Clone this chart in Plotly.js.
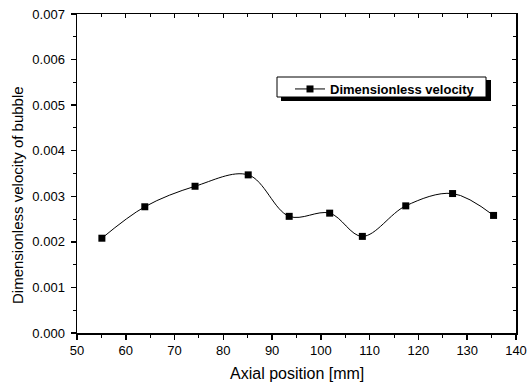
<!DOCTYPE html>
<html>
<head>
<meta charset="utf-8">
<script src="https://cdn.plot.ly/plotly-3.0.1.min.js"></script>
<style>html,body{margin:0;padding:0;background:#fff;}#chart{width:530px;height:390px;}</style>
</head>
<body>
<div id="chart"></div>
<script>
const axialPosition = [55.1, 63.9, 74.2, 85.1, 93.5, 101.8, 108.5, 117.4, 127.0, 135.4];
const dimensionlessVelocity = [0.00208, 0.00277, 0.00322, 0.00347, 0.00256, 0.00263, 0.00212, 0.00279, 0.00306, 0.00258];
const seriesName = 'Dimensionless velocity';
const xTitle = 'Axial position [mm]';
const yTitle = 'Dimensionless velocity of bubble';

const font = 'Liberation Sans, Arial, sans-serif';
const W = 530, H = 390, L = 77, R = 14, T = 14, B = 57;
const pw = W - L - R, ph = H - T - B;
const px = v => (v - L) / pw;          // pixel -> paper x
const py = v => (H - B - v) / ph;      // pixel -> paper y

const main = {
  x: axialPosition, y: dimensionlessVelocity, name: seriesName,
  type: 'scatter', mode: 'lines+markers',
  line: {shape: 'spline', smoothing: 1, color: '#000', width: 1},
  marker: {symbol: 'square', size: 7, color: '#000'},
  hoverinfo: 'skip'
};
const ghost = {
  x: axialPosition, y: dimensionlessVelocity, xaxis: 'x2', yaxis: 'y2',
  type: 'scatter', mode: 'markers', opacity: 0, showlegend: false, hoverinfo: 'skip'
};

const layout = {
  width: W, height: H,
  margin: {l: L, r: R, t: T, b: B},
  paper_bgcolor: '#fff', plot_bgcolor: '#fff',
  font: {family: font, color: '#000', size: 13},
  showlegend: true,
  legend: {x: px(290), y: py(74), xanchor: 'left', yanchor: 'top',
    bgcolor: 'rgba(0,0,0,0)', borderwidth: 0,
    font: {family: font, size: 13, color: '#000', weight: 'bold'}},
  xaxis: {range: [50, 140], dtick: 10, tick0: 50, showgrid: false, zeroline: false,
    showline: true, linecolor: '#000', linewidth: 1.5,
    ticks: 'outside', ticklen: 5, tickwidth: 1.5, tickcolor: '#000',
    minor: {dtick: 5, ticks: 'outside', ticklen: 3, tickwidth: 1, tickcolor: '#000'},
    tickfont: {size: 13, family: font}},
  yaxis: {range: [0, 0.007], dtick: 0.001, tickformat: '.3f', showgrid: false, zeroline: false,
    showline: true, linecolor: '#000', linewidth: 1.5,
    ticks: 'outside', ticklen: 5, tickwidth: 1.5, tickcolor: '#000',
    minor: {dtick: 0.0005, ticks: 'outside', ticklen: 3, tickwidth: 1, tickcolor: '#000'},
    tickfont: {size: 13, family: font}, ticklabelstandoff: 3},
  xaxis2: {overlaying: 'x', side: 'top', matches: 'x', range: [50, 140], dtick: 10, tick0: 50,
    showgrid: false, zeroline: false, showticklabels: false,
    showline: true, linecolor: '#000', linewidth: 1.5,
    ticks: 'inside', ticklen: 4, tickwidth: 1, tickcolor: '#000',
    minor: {dtick: 5, ticks: 'inside', ticklen: 3, tickwidth: 1, tickcolor: '#000'}},
  yaxis2: {overlaying: 'y', side: 'right', matches: 'y', range: [0, 0.007], dtick: 0.001,
    showgrid: false, zeroline: false, showticklabels: false,
    showline: true, linecolor: '#000', linewidth: 1.5,
    ticks: 'inside', ticklen: 4, tickwidth: 1, tickcolor: '#000',
    minor: {dtick: 0.0005, ticks: 'inside', ticklen: 3, tickwidth: 1, tickcolor: '#000'}},
  annotations: [
    {text: xTitle, xref: 'paper', yref: 'paper', x: 0.5, y: py(373), xanchor: 'center', yanchor: 'middle',
     showarrow: false, font: {family: font, size: 16, color: '#000'}},
    {text: yTitle, xref: 'paper', yref: 'paper', x: px(17), y: py(195), xanchor: 'center', yanchor: 'middle',
     textangle: -90, showarrow: false, font: {family: font, size: 15, color: '#000'}}
  ],
  shapes: [
    {type: 'rect', xref: 'paper', yref: 'paper', x0: px(281), x1: px(491), y0: py(101), y1: py(80),
     fillcolor: '#000', line: {width: 0}, layer: 'above'},
    {type: 'rect', xref: 'paper', yref: 'paper', x0: px(277), x1: px(486), y0: py(97), y1: py(77),
     fillcolor: '#fff', line: {width: 1, color: '#000'}, layer: 'above'}
  ]
};

Plotly.newPlot('chart', [main, ghost], layout, {displayModeBar: false, staticPlot: true});
</script>
</body>
</html>
